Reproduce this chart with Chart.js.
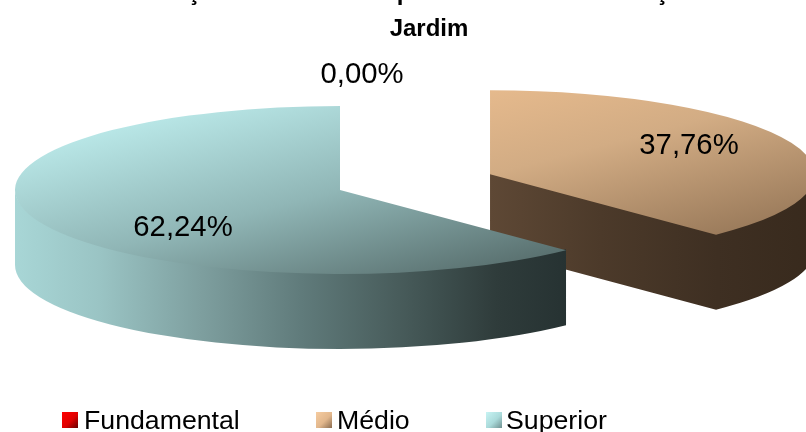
<!DOCTYPE html>
<html>
<head>
<meta charset="utf-8">
<style>html,body{margin:0;padding:0;background:#fff;overflow:hidden}canvas{display:block}</style>
<script src="https://cdn.jsdelivr.net/npm/chart.js@4/dist/chart.umd.min.js"></script>
</head>
<body>
<canvas id="c" width="806" height="432" style="width:806px;height:432px"></canvas>
<script>
const categories = ['Fundamental', 'Médio', 'Superior'];
const values = [0, 37.76, 62.24];
const titleText = 'Jardim';
const clippedTitle = ['ç', 'p', 'ç'];

const FONT = '"Liberation Sans", Arial, sans-serif';
const VIEW = {cx: 340, cy: 190, rx: 325, ry: 84, depth: 75};
const EXPLODE = [0, 0.498, 0];
const LABEL_POS = [[362, 74.5], [689, 146], [183, 228]];
const LEGEND_POS = [[62, 84], [316, 337], [486, 506]];
const CLIPPED_X = [194, 404, 662];
const TOP_STOPS = [
  [[0, '#ff3030'], [.5, '#c00000'], [1, '#700000']],
  [[0, '#edbf90'], [.5, '#d2ac84'], [1, '#9c7c5c']],
  [[0, '#b8e6e6'], [.5, '#90b6b6'], [1, '#5a7170']]
];
const WALL_STOPS = [
  [[0, '#700000'], [1, '#300000']],
  [[0, '#7a5e46'], [.5, '#5e4835'], [.67, '#4c3a2a'], [.85, '#3e2f22'], [1, '#382a1d']],
  [[0, '#a8d6d6'], [.13, '#9ac4c4'], [.285, '#7e9f9f'], [.44, '#607b7b'], [.59, '#485c5b'], [.74, '#2f3c3b'], [.85, '#263232'], [1, '#222c2c']]
];
const SWATCH = [
  [[0, '#ff0000'], [.55, '#e00000'], [1, '#660000']],
  [[0, '#f6cca0'], [.55, '#e2b78c'], [1, '#8a6c50']],
  [[0, '#c8f4f4'], [.55, '#aadada'], [1, '#6f9090']]
];

function grad(g, stops) { stops.forEach(s => g.addColorStop(s[0], s[1])); return g; }

function topFill(ctx) {
  const chart = ctx.chart, a = chart.chartArea;
  if (!a) return '#888';
  const X = (a.left + a.right) / 2, Y = (a.top + a.bottom) / 2;
  const k = Math.min(a.width, a.height) / 2 * Math.SQRT1_2;
  return grad(chart.ctx.createLinearGradient(X - k, Y - k, X + k, Y + k), TOP_STOPS[ctx.dataIndex]);
}

function arcCenter(arc, i) {
  const mid = (arc.startAngle + arc.endAngle) / 2;
  return {
    x: VIEW.cx + Math.cos(mid) * EXPLODE[i] * VIEW.rx,
    y: VIEW.cy + Math.sin(mid) * EXPLODE[i] * VIEW.ry
  };
}

function addRadialFace(ctx, c, a) {
  const ex = c.x + VIEW.rx * Math.cos(a), ey = c.y + VIEW.ry * Math.sin(a);
  ctx.moveTo(c.x, c.y - 1);
  ctx.lineTo(ex, ey - 1);
  ctx.lineTo(ex, ey + VIEW.depth);
  ctx.lineTo(c.x, c.y + VIEW.depth);
  ctx.closePath();
}

const pie3d = {
  id: 'pie3d',
  beforeDatasetDraw(chart, args) {
    const ctx = chart.ctx, rx = VIEW.rx, ry = VIEW.ry, d = VIEW.depth;
    const arcs = args.meta.data;
    arcs.forEach((arc, i) => {
      if (!arc.circumference) return;
      const c = arcCenter(arc, i), a0 = arc.startAngle, a1 = arc.endAngle;
      ctx.save();
      ctx.fillStyle = grad(ctx.createLinearGradient(c.x - rx, 0, c.x + rx, 0), WALL_STOPS[i]);
      ctx.beginPath();
      if (Math.cos(a1) > 1e-6) addRadialFace(ctx, c, a1);
      if (Math.cos(a0) < -1e-6) addRadialFace(ctx, c, a0);
      const s = Math.max(a0, 0), e = Math.min(a1, Math.PI);
      if (e > s) {
        ctx.moveTo(c.x + rx * Math.cos(s), c.y - 1 + ry * Math.sin(s));
        ctx.ellipse(c.x, c.y - 1, rx, ry, 0, s, e);
        ctx.ellipse(c.x, c.y + d, rx, ry, 0, e, s, true);
        ctx.closePath();
      }
      ctx.fill();
      ctx.restore();
    });
    arcs.forEach((arc, i) => {
      if (!arc.circumference) return;
      const c = arcCenter(arc, i), sx = rx / arc.outerRadius, sy = ry / arc.outerRadius;
      ctx.save();
      ctx.translate(c.x, c.y);
      ctx.scale(sx, sy);
      ctx.translate(-arc.x, -arc.y);
      arc.draw(ctx);
      ctx.restore();
    });
    return false;
  },
  afterDraw(chart) {
    const ctx = chart.ctx;
    ctx.save();
    ctx.fillStyle = '#000';
    ctx.textAlign = 'center';
    ctx.textBaseline = 'middle';
    ctx.font = '29.3px ' + FONT;
    values.forEach((v, i) => {
      ctx.fillText(v.toFixed(2).replace('.', ',') + '%', LABEL_POS[i][0], LABEL_POS[i][1]);
    });
    ctx.textBaseline = 'alphabetic';
    ctx.font = 'bold 24px ' + FONT;
    clippedTitle.forEach((t, i) => ctx.fillText(t, CLIPPED_X[i], 0));
    ctx.textAlign = 'left';
    ctx.font = '26.7px ' + FONT;
    categories.forEach((t, i) => {
      const x = LEGEND_POS[i][0];
      ctx.fillStyle = grad(ctx.createLinearGradient(x, 412, x + 16, 428), SWATCH[i]);
      ctx.fillRect(x, 412, 16, 16);
      ctx.fillStyle = '#000';
      ctx.fillText(t, LEGEND_POS[i][1], 429);
    });
    ctx.restore();
  }
};

new Chart(document.getElementById('c'), {
  type: 'pie',
  data: {
    labels: categories,
    datasets: [{
      data: values,
      clip: false,
      borderWidth: 0,
      backgroundColor: topFill
    }]
  },
  options: {
    responsive: false,
    animation: false,
    layout: {padding: {left: 52}},
    plugins: {
      legend: {display: false},
      tooltip: {enabled: false},
      title: {
        display: true,
        text: titleText,
        fullSize: false,
        color: '#000',
        font: {family: FONT, size: 24, weight: 'bold'},
        padding: {top: 15, bottom: 0}
      }
    }
  },
  plugins: [pie3d]
});
</script>
</body>
</html>
